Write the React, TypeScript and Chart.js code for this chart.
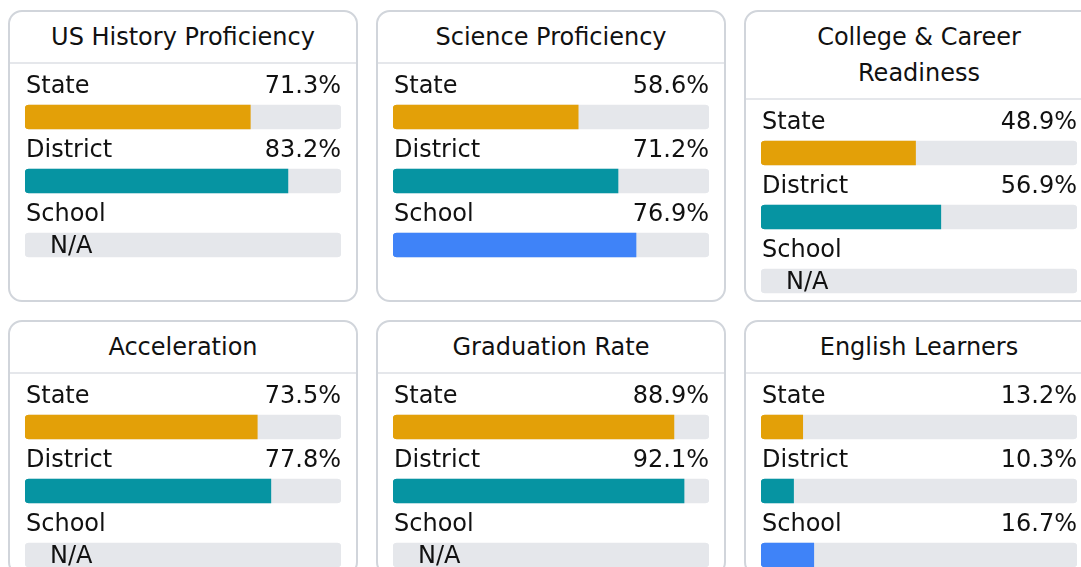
import React, { useEffect, useRef } from "react";
import { Chart, registerables } from "chart.js";

Chart.register(...registerables);

const cardTitles = [
  "US History Proficiency",
  "Science Proficiency",
  "College & Career Readiness",
  "Acceleration",
  "Graduation Rate",
  "English Learners",
];
const groupLabels = ["State", "District", "School"];
const stateValues: (number | null)[] = [71.3, 58.6, 48.9, 73.5, 88.9, 13.2];
const districtValues: (number | null)[] = [83.2, 71.2, 56.9, 77.8, 92.1, 10.3];
const schoolValues: (number | null)[] = [null, 76.9, null, null, null, 16.7];
const groupColors = ["#E3A008", "#0694A2", "#3F83F8"];
const scaleMax = 100;
const naText = "N/A";

const FONT = "'DejaVu Sans', 'Noto Sans', sans-serif";
const TRACK = "#E5E7EB";
const TEXT = "#111111";

const labelPlugin = {
  id: "rowLabels",
  afterDatasetsDraw(chart: any) {
    const ctx = chart.ctx;
    const area = chart.chartArea;
    const values: (number | null)[] = chart.data.datasets[0].data;
    const trackMeta = chart.getDatasetMeta(1);
    ctx.save();
    ctx.font = `24px ${FONT}`;
    ctx.fillStyle = TEXT;
    ctx.textBaseline = "alphabetic";
    trackMeta.data.forEach((bar: any, i: number) => {
      const top = bar.y - bar.height / 2;
      const v = values[i];
      ctx.textAlign = "left";
      ctx.fillText(chart.data.labels[i], area.left + 1, top - 12.3);
      if (v == null) {
        ctx.fillText(naText, area.left + 25, top + 19.7);
      } else {
        ctx.textAlign = "right";
        ctx.fillText(`${v.toFixed(1)}%`, area.right, top - 12.3);
      }
    });
    ctx.restore();
  },
};

function CardChart({ index }: { index: number }) {
  const ref = useRef<HTMLCanvasElement | null>(null);
  useEffect(() => {
    if (!ref.current) return;
    const values = [stateValues[index], districtValues[index], schoolValues[index]];
    const chart = new Chart(ref.current, {
      type: "bar",
      data: {
        labels: groupLabels,
        datasets: [
          {
            data: values as any,
            backgroundColor: groupColors,
            grouped: false,
            order: 1,
            barThickness: 24,
            borderSkipped: false,
            borderRadius: { topLeft: 4, bottomLeft: 4, topRight: 0, bottomRight: 0 },
          } as any,
          {
            data: groupLabels.map(() => scaleMax),
            backgroundColor: TRACK,
            grouped: false,
            order: 2,
            barThickness: 24,
            borderSkipped: false,
            borderRadius: 4,
          } as any,
        ],
      },
      options: {
        indexAxis: "y",
        animation: false,
        responsive: false,
        maintainAspectRatio: false,
        events: [],
        layout: { padding: { top: 21, bottom: 0, left: 0, right: 0 } },
        scales: {
          x: { display: false, min: 0, max: scaleMax },
          y: { display: false },
        },
        plugins: {
          legend: { display: false },
          tooltip: { enabled: false },
        },
      } as any,
      plugins: [labelPlugin],
    });
    return () => chart.destroy();
  }, [index]);
  return (
    <div style={{ padding: "0 15px", height: 200, position: "relative" }}>
      <canvas ref={ref} width={316} height={213} style={{ display: "block" }} />
    </div>
  );
}

function Card({ index }: { index: number }) {
  return (
    <div
      style={{
        border: "2px solid #D1D5DB",
        borderRadius: 14,
        background: "#fff",
        boxSizing: "border-box",
        display: "flex",
        flexDirection: "column",
      }}
    >
      <div
        style={{
          padding: "7px 10px 7px",
          textAlign: "center",
          font: `24px/36px ${FONT}`,
          color: TEXT,
          borderBottom: "2px solid #E5E7EB",
        }}
      >
        {cardTitles[index]}
      </div>
      <CardChart index={index} />
    </div>
  );
}

export default function App() {
  return (
    <div
      style={{
        position: "fixed",
        left: 0,
        top: 0,
        width: "100vw",
        height: "100vh",
        overflow: "hidden",
        background: "#fff",
      }}
    >
      <div
        style={{
          position: "absolute",
          left: 8,
          top: 10,
          display: "grid",
          gridTemplateColumns: "350px 350px 350px",
          columnGap: 18,
          rowGap: 18,
        }}
      >
        {cardTitles.map((_, i) => (
          <Card key={i} index={i} />
        ))}
      </div>
    </div>
  );
}
